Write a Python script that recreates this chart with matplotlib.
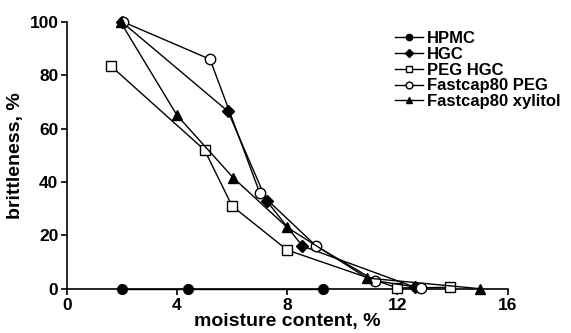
import matplotlib
matplotlib.use("Agg")
import matplotlib.pyplot as plt

plt.rcParams["font.family"] = ["Liberation Sans", "DejaVu Sans"]
plt.rcParams["font.weight"] = "bold"

# ── data ────────────────────────────────────────────────────
hpmc_x = [2.0, 4.4, 9.3]
hpmc_y = [0, 0, 0]
hgc_x = [2.0, 5.85, 7.25, 8.55, 12.65]
hgc_y = [100, 66.5, 33, 16, 0.5]
peg_hgc_x = [1.6, 5.0, 6.0, 8.0, 12.0, 13.9]
peg_hgc_y = [83.5, 52, 31, 14.5, 0.3, 0.5]
fc_peg_x = [2.05, 5.2, 7.0, 9.05, 11.2, 12.85]
fc_peg_y = [100, 86, 36, 16, 3, 0.3]
fc_xyl_x = [1.95, 4.0, 6.05, 8.0, 10.9, 15.0]
fc_xyl_y = [100, 65, 41.5, 23, 4, 0]

x_ticks = [0, 4, 8, 12, 16]
y_ticks = [0, 20, 40, 60, 80, 100]

fig = plt.figure(figsize=(5.71, 3.33), dpi=100)
ax = fig.add_axes([0.117, 0.133, 0.772, 0.801])

common = dict(color="black", linewidth=1.0, clip_on=False, zorder=3)
ax.plot(hpmc_x, hpmc_y, marker="o", markersize=7, markerfacecolor="black",
        label="HPMC", **common)
ax.plot(hgc_x, hgc_y, marker="D", markersize=6, markerfacecolor="black",
        label="HGC", **common)
ax.plot(peg_hgc_x, peg_hgc_y, marker="s", markersize=7, markerfacecolor="white",
        label="PEG HGC", **common)
ax.plot(fc_peg_x, fc_peg_y, marker="o", markersize=7.5, markerfacecolor="white",
        label="Fastcap80 PEG", **common)
ax.plot(fc_xyl_x, fc_xyl_y, marker="^", markersize=7.5, markerfacecolor="black",
        label="Fastcap80 xylitol", **common)

ax.set_xlim(0, 16)
ax.set_ylim(0, 100)
ax.set_xticks(x_ticks)
ax.set_yticks(y_ticks)
ax.tick_params(direction="out", length=4, width=1.2, labelsize=12.5, pad=2)
ax.tick_params(axis="x", pad=3)
for s in ["top", "right"]:
    ax.spines[s].set_visible(False)
for s in ["left", "bottom"]:
    ax.spines[s].set_linewidth(1.2)

ax.set_xlabel("moisture content, %", fontsize=14, fontweight="bold", labelpad=0)
ax.set_ylabel("brittleness, %", fontsize=14, fontweight="bold", labelpad=4)

leg = fig.legend(loc="upper left", bbox_to_anchor=(0.692, 0.907), frameon=False,
                 fontsize=12, handlelength=1.7, handletextpad=0.2,
                 labelspacing=0.05, borderpad=0, borderaxespad=0,
                 markerscale=0.65)

fig.savefig("out.png", dpi=100)
